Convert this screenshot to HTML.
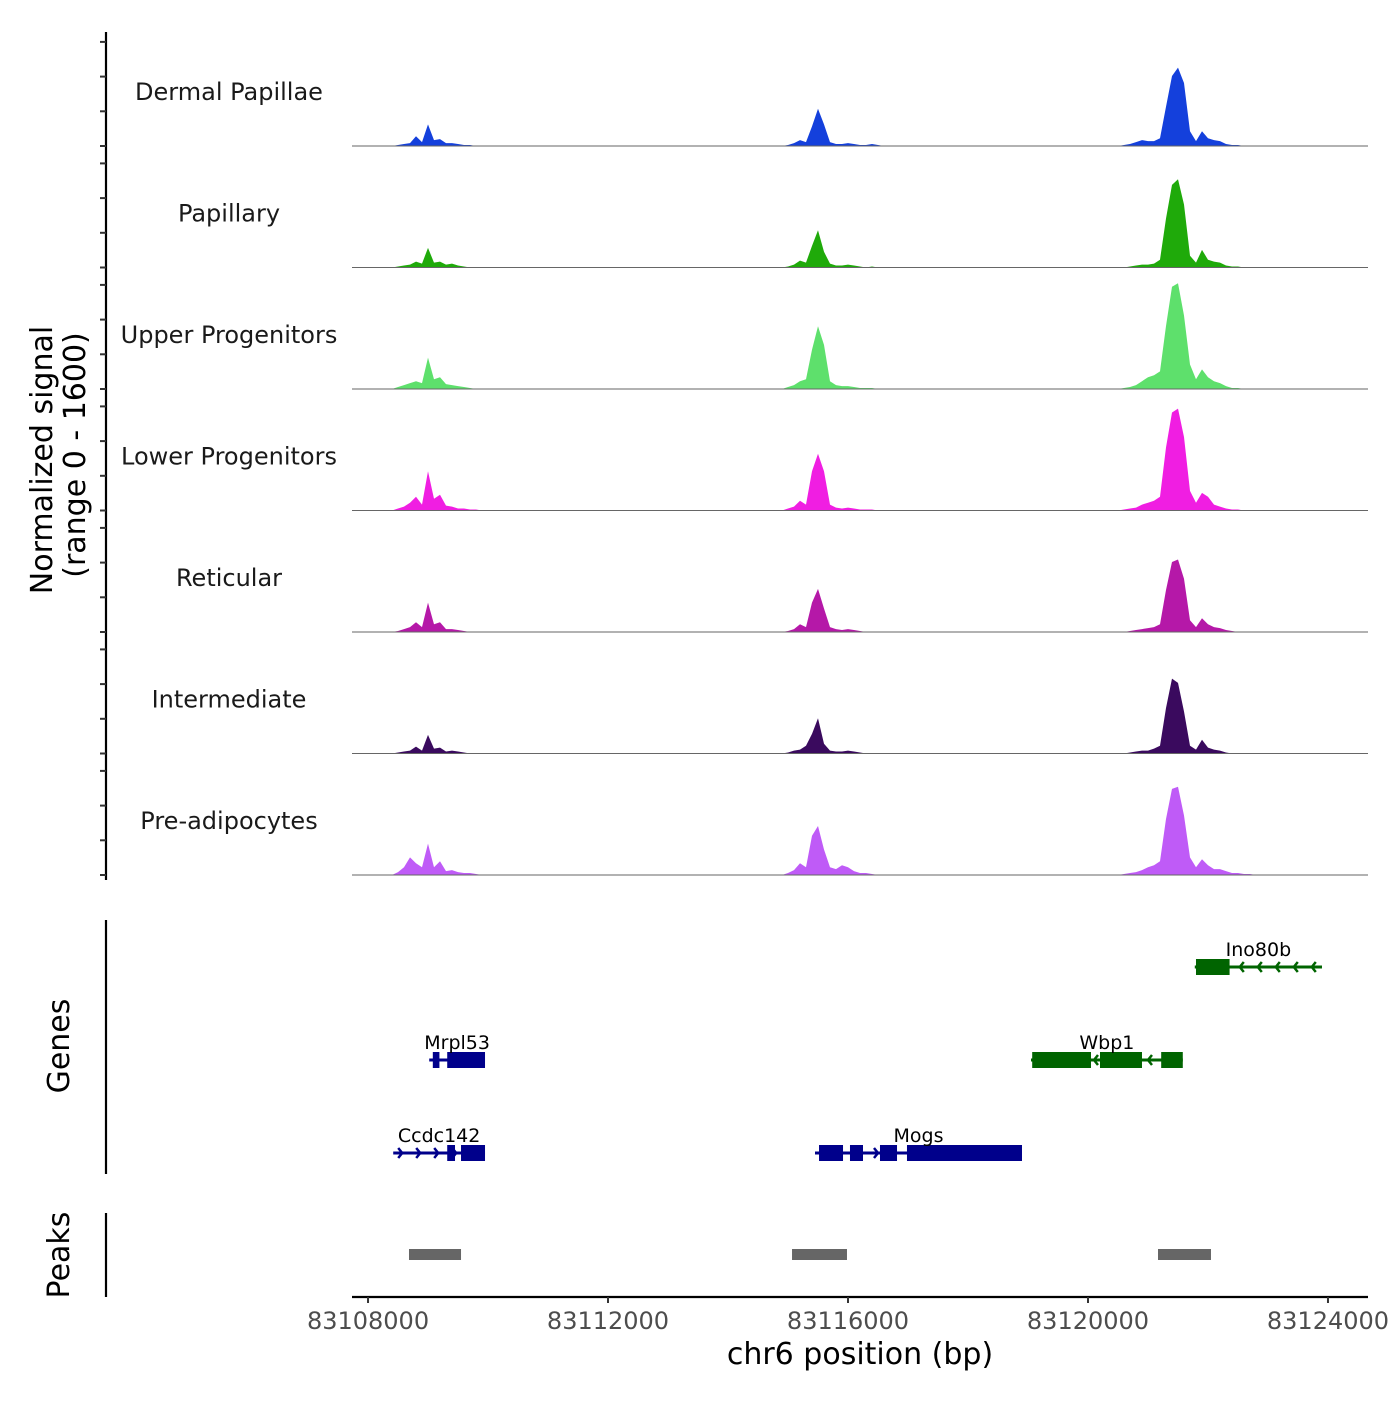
<!DOCTYPE html>
<html><head><meta charset="utf-8"><style>
body{margin:0;background:#fff;}
svg text{font-family:"DejaVu Sans","Liberation Sans",sans-serif;}
</style></head><body>
<svg id="chart" width="1400" height="1400" viewBox="0 0 1400 1400" xmlns="http://www.w3.org/2000/svg">
<g id="tracks"></g>
<g id="genes"></g>
<g id="peaks"></g>
<g id="axes"></g>
<text transform="translate(52,460) rotate(-90)" text-anchor="middle" font-size="30" fill="#000">Normalized signal</text>
<text transform="translate(85,455) rotate(-90)" text-anchor="middle" font-size="30" fill="#000">(range 0 - 1600)</text>
<text transform="translate(69,1046) rotate(-90)" text-anchor="middle" font-size="30" fill="#000">Genes</text>
<text transform="translate(69,1255) rotate(-90)" text-anchor="middle" font-size="30" fill="#000">Peaks</text>
<text x="860" y="1364" text-anchor="middle" font-size="30" fill="#000">chr6 position (bp)</text>
</svg>
<script>
const NS="http://www.w3.org/2000/svg";
const trackNames=["Dermal Papillae","Papillary","Upper Progenitors","Lower Progenitors","Reticular","Intermediate","Pre-adipocytes"];
const trackColors=["#1440dc","#1faa0a","#5ee06c","#f01ee2","#b518a8","#3a0a5e","#bf5bf7"];
const region1Start=83108500, region2Start=83115000, region3Start=83120600, binSize=100;
// signal values (0-1600) per track; region1 16 bins, region2 17 bins, region3 25 bins
const sigDermal=[14,28,42,140,56,308,84,98,42,42,28,14,14,0,0,0, 14,42,84,56,280,532,308,56,28,28,42,28,14,14,28,14,0, 14,28,56,84,70,70,112,560,1000,1120,900,210,70,210,112,84,70,28,14,14,0,0,0,0,0];
const sigPapillary=[14,28,42,84,56,280,70,84,42,56,28,14,0,0,0,0, 14,42,98,70,308,532,224,56,28,28,42,28,14,0,14,0,0, 0,14,28,42,42,56,112,700,1180,1260,900,168,70,252,112,84,70,28,14,14,0,0,0,0,0];
const sigUpper=[28,56,84,112,84,448,140,168,70,56,42,28,14,0,0,0, 28,56,112,140,560,896,630,112,56,42,42,28,14,14,14,0,0, 14,28,56,112,168,196,252,900,1460,1512,1050,350,140,280,168,112,84,42,14,14,0,0,0,0,0];
const sigLower=[28,56,112,196,84,560,168,224,70,56,28,28,14,14,0,0, 28,56,140,84,560,812,560,84,42,28,42,28,14,14,14,0,0, 14,28,42,84,112,140,196,900,1400,1456,1050,280,112,252,196,84,56,28,14,14,0,0,0,0,0];
const sigReticular=[14,42,70,140,70,420,112,140,42,42,28,14,0,0,0,0, 14,42,112,70,420,616,336,70,42,28,42,28,14,0,0,0,0, 0,14,28,42,56,70,112,600,1000,1036,760,168,70,196,112,70,56,28,14,0,0,0,0,0,0];
const sigIntermediate=[14,28,42,98,42,266,70,84,28,42,28,14,0,0,0,0, 14,42,56,112,280,504,140,42,28,28,42,28,14,0,0,0,0, 0,14,28,42,42,70,112,650,1070,1008,600,112,56,196,84,56,42,14,0,0,0,0,0,0,0];
const sigPreadipo=[42,112,252,168,112,448,112,196,56,70,42,28,28,14,0,0, 28,70,168,112,560,700,364,112,84,140,112,56,28,28,14,0,0, 14,28,42,70,112,140,196,800,1230,1260,850,252,112,224,140,84,84,56,28,28,14,14,0,0,0];
const trackSignals=[sigDermal,sigPapillary,sigUpper,sigLower,sigReticular,sigIntermediate,sigPreadipo];
const xTicks=[83108000,83112000,83116000,83120000,83124000];
const peakStarts=[83108683,83115067,83121167];
const peakEnds=[83109550,83115983,83122050];
const geneNames=["Ino80b","Wbp1","Mrpl53","Ccdc142","Mogs"];
const geneStrands=[-1,-1,1,1,1];
const geneRows=[0,1,1,2,2];
const geneColors=["#006400","#006400","#00008b","#00008b","#00008b"];
const geneStarts=[83121780,83119050,83109020,83108420,83115450];
const geneEnds=[83123900,83121580,83109950,83109950,83118900];
const geneExons=[[[83121800,83122360]],[[83119070,83120050],[83120200,83120900],[83121220,83121580]],[[83109080,83109190],[83109320,83109950]],[[83109320,83109450],[83109550,83109950]],[[83115517,83115917],[83116033,83116250],[83116533,83116817],[83116983,83118900]]];

const xMin=83107733, xMax=83124667, pxL=352, pxR=1368;
const X=bp=>pxL+(bp-xMin)/(xMax-xMin)*(pxR-pxL);
const trackBase0=146, trackStep=121.5, yMax=1600, trackH=112;
const Y=(v,i)=>trackBase0+i*trackStep-v/yMax*trackH;
function mk(tag,attrs,parent){const e=document.createElementNS(NS,tag);for(const k in attrs)e.setAttribute(k,attrs[k]);parent.appendChild(e);return e;}
const tracksG=document.getElementById('tracks');
trackSignals.forEach((sig,i)=>{
  const base=Y(0,i);
  const regionStarts=[region1Start,region2Start,region3Start];
  const regionLens=[16,17,25];
  let off=0;
  regionStarts.forEach((rs,r)=>{
    let d=`M${X(rs-binSize).toFixed(1)},${base}`;
    for(let k=0;k<regionLens[r];k++){d+=` L${X(rs+k*binSize).toFixed(1)},${Y(sig[off+k],i).toFixed(1)}`;}
    d+=` L${X(rs+regionLens[r]*binSize).toFixed(1)},${base} Z`;
    const p=mk('path',{d:d,fill:trackColors[i]},tracksG);
    
    
    off+=regionLens[r];
  });
  const l=mk('line',{x1:pxL,x2:pxR,y1:base,y2:base,stroke:'#666','stroke-width':1},tracksG);
  
  
  const t=mk('text',{x:229,y:base-46,'text-anchor':'middle','font-size':24,fill:'#1a1a1a'},tracksG);
  t.textContent=trackNames[i];
  
  
});
const genesG=document.getElementById('genes');
const rowY=[967,1060,1153];
geneNames.forEach((g,i)=>{
  const y=rowY[geneRows[i]], c=geneColors[i];
  const grp=mk('g',{},genesG);
  
  
  mk('line',{x1:X(geneStarts[i]),x2:X(geneEnds[i]),y1:y,y2:y,stroke:c,'stroke-width':3},grp);
  const s=geneStrands[i];
  for(let bp=geneStarts[i]+150;bp<geneEnds[i];bp+=300){
    const x=X(bp);
    mk('polyline',{points:`${x-4*s},${y-5} ${x},${y} ${x-4*s},${y+5}`,fill:'none',stroke:c,'stroke-width':2.5},grp);
  }
  geneExons[i].forEach(e=>{mk('rect',{x:X(e[0]),y:y-8,width:X(e[1])-X(e[0]),height:16,fill:c},grp);});
  const t=mk('text',{x:(X(geneStarts[i])+X(geneEnds[i]))/2,y:y-11,'text-anchor':'middle','font-size':19,fill:'#000'},grp);
  t.textContent=g;
  
  
});
const peaksG=document.getElementById('peaks');
peakStarts.forEach((s,i)=>{
  const r=mk('rect',{x:X(s),y:1249,width:X(peakEnds[i])-X(s),height:11,fill:'#666'},peaksG);
  
  
});
const ax=document.getElementById('axes');
mk('line',{x1:106,x2:106,y1:32,y2:880,stroke:'#000','stroke-width':2.2},ax);
for(let i=0;i<7;i++){const b=Y(0,i);for(let k=0;k<4;k++){const yy=b-k*34.7;mk('line',{x1:100,x2:106,y1:yy,y2:yy,stroke:'#333','stroke-width':2},ax);}}
mk('line',{x1:106,x2:106,y1:920,y2:1174,stroke:'#000','stroke-width':2.2},ax);
mk('line',{x1:106,x2:106,y1:1213,y2:1297,stroke:'#000','stroke-width':2.2},ax);
mk('line',{x1:pxL,x2:pxR,y1:1297,y2:1297,stroke:'#000','stroke-width':2.2},ax);
xTicks.forEach(v=>{
  const x=X(v);
  mk('line',{x1:x,x2:x,y1:1297,y2:1303,stroke:'#333','stroke-width':2},ax);
  const t=mk('text',{x:x,y:1329,'text-anchor':'middle','font-size':24,fill:'#4d4d4d'},ax);
  t.textContent=v;
  
  
});
</script>
</body></html>
